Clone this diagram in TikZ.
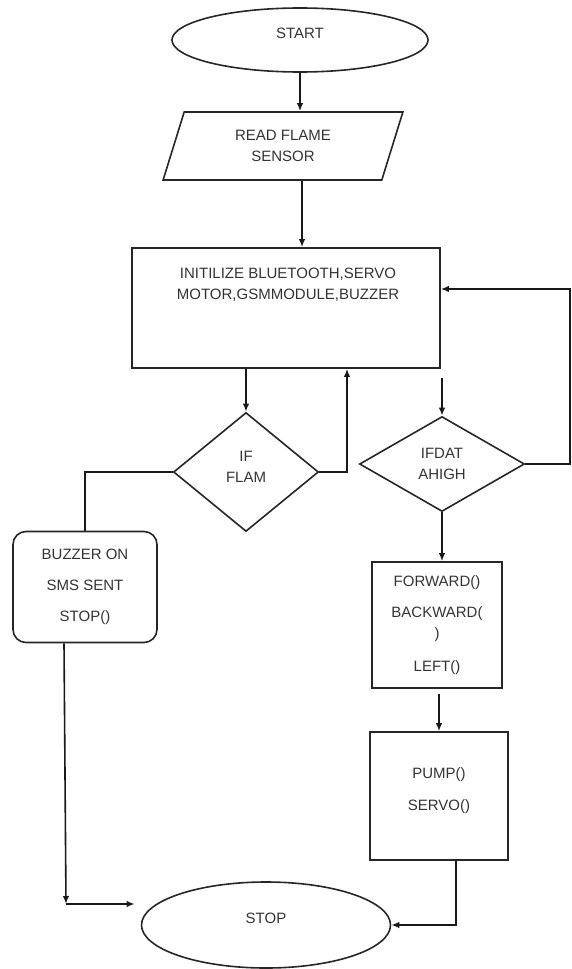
\documentclass[tikz,border=0pt]{standalone}
\usepackage{fontspec}
\setmainfont{Liberation Sans}
\usetikzlibrary{shapes.geometric,arrows.meta}
\begin{document}
\begin{tikzpicture}[x=1pt,y=-1pt,
  every node/.style={font=\fontsize{15}{21}\selectfont, text=black!80, inner sep=0pt, align=center},
  shp/.style={draw=black!85, line width=1.6pt},
  term/.style={shp, ellipse, text height=11pt, text depth=14pt},
  boxx/.style={shp, rectangle},
  rbox/.style={shp, rectangle, rounded corners=13pt},
  dec/.style={shp, diamond},
  io/.style={shp, trapezium, trapezium left angle=72, trapezium right angle=108, trapezium stretches=true},
  conn/.style={line width=1.6pt, draw=black!90},
  arr/.style={conn, -{Latex[length=8pt,width=6.5pt]}},
]
\useasboundingbox (0,0) rectangle (572,969);

% nodes
\node[term, minimum width=256pt, minimum height=64pt] (start) at (300,40) {START};
\node[io, minimum width=240pt, minimum height=68pt] (read) at (283,146) {READ FLAME\\SENSOR};
\node[boxx, minimum width=308pt, minimum height=120pt] (init) at (286,308) {};
\node (initT) at (288,285) {INITILIZE BLUETOOTH,SERVO\\MOTOR,GSMMODULE,BUZZER};
\node[dec, minimum width=145pt, minimum height=119pt] (ifflam) at (246,472) {IF\\FLAM\\[-11pt]~};
\node[dec, minimum width=165pt, minimum height=95pt] (ifdata) at (442,464) {IFDAT\\AHIGH};
\node[rbox, minimum width=144pt, minimum height=111pt] (buzz) at (85,587) {BUZZER ON\\[10pt]SMS SENT\\[10pt]STOP()};
\node[boxx, minimum width=130pt, minimum height=126pt] (fwd) at (437,625) {FORWARD()\\[10pt]BACKWARD(\\)\\[12pt]LEFT()};
\node[boxx, minimum width=138pt, minimum height=128pt] (pump) at (439,796) {PUMP()\\[11pt]SERVO()\\[-7pt]~};
\node[term, minimum width=249pt, minimum height=86pt] (stop) at (266,925) {STOP};

% helper coordinates
\coordinate (rloop) at (570,289);
\coordinate (lcorner) at (66,904);
\path (pump.north |- fwd.south) coordinate (fs);
\path (ifdata.north |- init.south) coordinate (is);

% connectors
\draw[arr] (start.south) -- (start.south |- read.north);
\draw[arr] ([xshift=19pt]read.south) -- ([xshift=19pt]read.south |- init.north);
\draw[arr] (ifflam.north |- init.south) -- (ifflam.north);
\draw[arr] (ifflam.east) -| ([xshift=61pt]init.south);
\draw[arr] ([yshift=-9pt]is) -- (ifdata.north);
\draw[arr] (ifdata.east) -| (rloop) -- (rloop -| init.east);
\draw[conn] (ifflam.west) -| (buzz.north);
\draw[arr] ([xshift=-21pt]buzz.south) -- (lcorner);
\draw[arr, shorten >=6pt] (lcorner) -- (lcorner -| stop.west);
\draw[arr] (ifdata.south) -- (ifdata.south |- fwd.north);
\draw[arr] ([yshift=-5pt]fs) -- (pump.north);
\draw[arr] ([xshift=17pt]pump.south) |- (stop.east);
\end{tikzpicture}
\end{document}
